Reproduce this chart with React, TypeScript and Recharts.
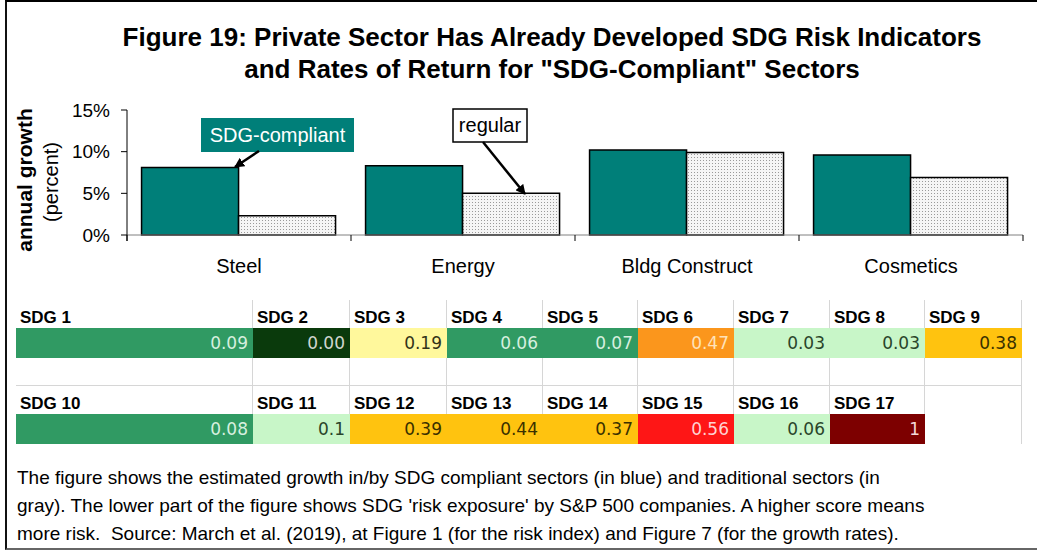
// SDG growth bars plus SDG risk-exposure heat table (Figure 19).
import React from "react";
import { BarChart, Bar, XAxis, YAxis } from "recharts";

document.body.style.margin = "0";

const categories = ["Steel", "Energy", "Bldg Construct", "Cosmetics"];
const sdgCompliant = [8.1, 8.3, 10.2, 9.6];
const regular = [2.3, 5.0, 9.9, 6.9];
const yTicks = [0, 5, 10, 15];

const row1Labels = ["SDG 1", "SDG 2", "SDG 3", "SDG 4", "SDG 5", "SDG 6", "SDG 7", "SDG 8", "SDG 9"];
const row1Values = ["0.09", "0.00", "0.19", "0.06", "0.07", "0.47", "0.03", "0.03", "0.38"];
const row2Labels = ["SDG 10", "SDG 11", "SDG 12", "SDG 13", "SDG 14", "SDG 15", "SDG 16", "SDG 17", ""];
const row2Values = ["0.08", "0.1", "0.39", "0.44", "0.37", "0.56", "0.06", "1", ""];

const titleLines = [
  "Figure 19: Private Sector Has Already Developed SDG Risk Indicators",
  'and Rates of Return for "SDG-Compliant" Sectors',
];
const captionLines = [
  "The figure shows the estimated growth in/by SDG compliant sectors (in blue) and traditional sectors (in",
  "gray). The lower part of the figure shows SDG 'risk exposure' by S&P 500 companies. A higher score means",
  "more risk.  Source: March et al. (2019), at Figure 1 (for the risk index) and Figure 7 (for the growth rates).",
];

// heat colours (fill, text) per cell
const swatch: Record<string, [string, string]> = {
  g: ["#309a63", "#d6efdf"],
  dg: ["#0a3a0c", "#cfd6cf"],
  ly: ["#fff89c", "#333318"],
  o: ["#fb961c", "#ffe2b8"],
  lg: ["#c8f6c8", "#2a452a"],
  y: ["#ffc30f", "#3a3000"],
  r: ["#fe1616", "#ffd2d2"],
  dr: ["#7d0000", "#f4d8d8"],
  n: ["#ffffff", "#000000"],
};
const row1Swatch = ["g", "dg", "ly", "g", "g", "o", "lg", "lg", "y"];
const row2Swatch = ["g", "lg", "y", "y", "y", "r", "lg", "dr", "n"];
const colWidths = [237, 97, 97, 96, 95, 96, 96, 95, 97];

const data = categories.map((c, i) => ({ name: c, sdg: sdgCompliant[i], regular: regular[i] }));

const W = 1037;
const CH = 290;
const margin = { top: 110, right: 14, bottom: 0, left: 67 };
const yAxisW = 60;
const bandHalf = (W - margin.left - margin.right - yAxisW) / categories.length / 2;

const font = "'Liberation Sans', Arial, sans-serif";

const XTick = (props: any) => {
  const { x, y, payload, index } = props;
  return (
    <g>
      {index === 0 && <line x1={x - bandHalf} y1={y} x2={x - bandHalf} y2={y + 6} stroke="#000" />}
      <line x1={x + bandHalf} y1={y} x2={x + bandHalf} y2={y + 6} stroke="#000" />
      <text x={x} y={y + 38} textAnchor="middle" fontSize={20} fill="#000" fontFamily={font}>
        {payload.value}
      </text>
    </g>
  );
};

const TableRows = ({ labels, values, sw, top }: any) => (
  <div style={{ position: "absolute", left: 16, top, display: "flex" }}>
    {labels.map((l: string, i: number) => {
      const [bg, fg] = swatch[sw[i]];
      return (
        <div key={i} style={{ width: colWidths[i] }}>
          <div
            style={{
              height: 28,
              lineHeight: "35px",
              paddingLeft: 4,
              fontWeight: 700,
              fontSize: 17,
              borderRight: "1px solid #d6d6d6",
              boxSizing: "border-box",
              overflow: "hidden",
            }}
          >
            {l}
          </div>
          <div
            style={{
              height: 30,
              lineHeight: "30px",
              background: bg,
              color: fg,
              textAlign: "right",
              paddingRight: 5,
              fontSize: 17,
              fontFamily: "'DejaVu Sans', sans-serif",
              boxSizing: "border-box",
              borderRight: sw[i] === "n" ? "1px solid #d6d6d6" : "none",
            }}
          >
            {values[i]}
          </div>
        </div>
      );
    })}
  </div>
);

export default function App() {
  return (
    <div style={{ position: "relative", width: W, height: 556, overflow: "hidden", background: "#fff", fontFamily: font }}>
      <svg width={0} height={0} style={{ position: "absolute" }}>
        <defs>
          <pattern id="dots" width="3" height="3" patternUnits="userSpaceOnUse">
            <rect width="3" height="3" fill="#f5f5f5" />
            <rect x="1" y="1" width="1" height="1" fill="#999" />
          </pattern>
          <marker id="arrow" viewBox="0 0 10 10" refX="9" refY="5" markerWidth="4" markerHeight="4" orient="auto">
            <path d="M0,0 L10,5 L0,10 z" fill="#000" />
          </marker>
        </defs>
      </svg>

      <div
        style={{
          position: "absolute",
          left: 5,
          top: 0,
          width: 1050,
          height: 550,
          boxSizing: "border-box",
          borderTop: "2px solid #000",
          borderLeft: "2px solid #111",
          borderBottom: "2px solid #666",
        }}
      />

      <div style={{ position: "absolute", left: 52, width: 1000, top: 21, textAlign: "center", fontWeight: 700, fontSize: 26, lineHeight: "32px" }}>
        {titleLines.map((t, i) => (
          <div key={i} style={{ whiteSpace: "nowrap" }}>{t}</div>
        ))}
      </div>

      <div style={{ position: "absolute", left: 25, top: 180, transform: "translate(-50%,-50%) rotate(-90deg)", whiteSpace: "nowrap", fontWeight: 700, fontSize: 21 }}>
        annual growth
      </div>
      <div style={{ position: "absolute", left: 51, top: 182, transform: "translate(-50%,-50%) rotate(-90deg)", whiteSpace: "nowrap", fontSize: 20 }}>
        (percent)
      </div>

      <div style={{ position: "absolute", left: 0, top: 0 }}>
        <BarChart width={W} height={CH} data={data} margin={margin} barGap={0} barCategoryGap="6.5%" style={{ fontFamily: font }}>
          <XAxis dataKey="name" axisLine={{ stroke: "#808080" }} tickLine={false} tickSize={0} tickMargin={0} height={55} tick={<XTick />} interval={0} />
          <YAxis
            domain={[0, 15]}
            ticks={yTicks}
            width={yAxisW}
            axisLine={{ stroke: "#000" }}
            tickLine={{ stroke: "#000" }}
            tickSize={6}
            tickMargin={11}
            tickFormatter={(v: number) => `${v}%`}
            tick={{ fill: "#000", fontSize: 19 }}
          />
          <Bar dataKey="sdg" fill="#007f79" stroke="#000" strokeWidth={1.5} isAnimationActive={false} />
          <Bar dataKey="regular" fill="url(#dots)" stroke="#000" strokeWidth={1.5} isAnimationActive={false} />
        </BarChart>
      </div>

      <svg width={W} height={CH} style={{ position: "absolute", left: 0, top: 0, pointerEvents: "none" }}>
        <line x1={127} y1={235} x2={127} y2={241} stroke="#000" />
        <rect x={201} y={118} width={153} height={34} fill="#007f79" />
        <text x={277.5} y={142} textAnchor="middle" fontSize={20} fill="#fff" fontFamily={font}>SDG-compliant</text>
        <line x1={259} y1={151} x2={235} y2={167} stroke="#000" strokeWidth={2.5} markerEnd="url(#arrow)" />
        <rect x={453} y={109} width={74} height={33} fill="#fff" stroke="#000" strokeWidth={1.5} />
        <text x={490} y={132} textAnchor="middle" fontSize={20} fill="#000" fontFamily={font}>regular</text>
        <line x1={483} y1={142} x2={525} y2={194} stroke="#000" strokeWidth={2.5} markerEnd="url(#arrow)" />
      </svg>

      <div style={{ position: "absolute", left: 16, top: 358, width: 1006, height: 27, display: "flex", borderBottom: "1px solid #d6d6d6", boxSizing: "content-box" }}>
        {colWidths.map((w, i) => (
          <div key={i} style={{ width: w, borderRight: "1px solid #d6d6d6", boxSizing: "border-box" }} />
        ))}
      </div>
      <TableRows labels={row1Labels} values={row1Values} sw={row1Swatch} top={300} />
      <TableRows labels={row2Labels} values={row2Values} sw={row2Swatch} top={386} />

      <div style={{ position: "absolute", left: 17, top: 464, fontSize: 19, lineHeight: "28px", color: "#000" }}>
        {captionLines.map((t, i) => (
          <div key={i} style={{ whiteSpace: "pre" }}>{t}</div>
        ))}
      </div>
    </div>
  );
}
